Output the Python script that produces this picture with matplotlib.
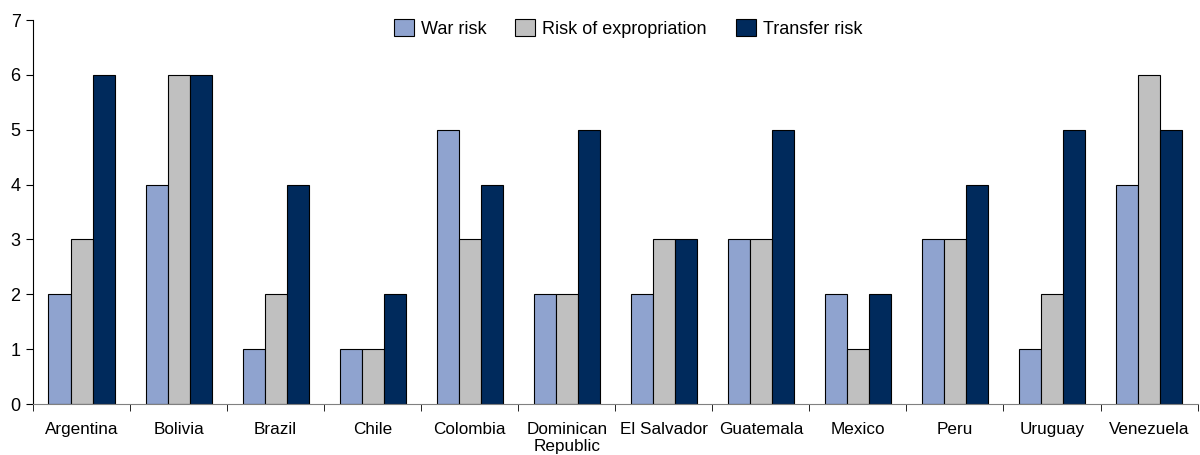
#!/usr/bin/env python3

import numpy as np
import matplotlib
matplotlib.use('Agg')
import matplotlib.pyplot as plt

countries = ['Argentina', 'Bolivia', 'Brazil', 'Chile', 'Colombia', 'Dominican\nRepublic',
             'El Salvador', 'Guatemala', 'Mexico', 'Peru', 'Uruguay', 'Venezuela']
war_risk = [2, 4, 1, 1, 5, 2, 2, 3, 2, 3, 1, 4]
expropriation_risk = [3, 6, 2, 1, 3, 2, 3, 3, 1, 3, 2, 6]
transfer_risk = [6, 6, 4, 2, 4, 5, 3, 5, 2, 4, 5, 5]

plt.rcParams['font.family'] = ['Liberation Sans', 'DejaVu Sans']
plt.rcParams['font.size'] = 12.3

fig = plt.figure(figsize=(12, 4.55), dpi=100)
ax = fig.add_axes([0.0275, 0.112, 0.9705, 0.844])

x = np.arange(len(countries))
w = 0.227
ax.bar(x - w, war_risk, w, color='#8fa3cf', edgecolor='black', linewidth=0.8, label='War risk')
ax.bar(x, expropriation_risk, w, color='#c0c0c0', edgecolor='black', linewidth=0.8, label='Risk of expropriation')
ax.bar(x + w, transfer_risk, w, color='#002a5c', edgecolor='black', linewidth=0.8, label='Transfer risk')

ax.set_xlim(-0.5, len(countries) - 0.5)
ax.set_ylim(0, 7)
ax.set_yticks(range(0, 8))

# category labels in the middle, tick marks between categories
ax.set_xticks(x)
ax.set_xticklabels(countries, linespacing=1.2)
ax.tick_params(axis='x', which='major', length=0, pad=13)
ax.set_xticks(np.arange(-0.5, len(countries)), minor=True)
ax.tick_params(axis='x', which='minor', length=5, direction='out', color='black')
ax.tick_params(axis='y', length=5, direction='out', pad=4, labelsize=13)

for s in ['top', 'right']:
    ax.spines[s].set_visible(False)
ax.spines['bottom'].set_color('#808080')
ax.spines['left'].set_color('black')

ax.legend(loc='upper center', bbox_to_anchor=(0.511, 1.045), ncol=3, frameon=False,
          handlelength=1.1, handleheight=1.1, columnspacing=1.6, handletextpad=0.4,
          fontsize=13)

plt.savefig('out.png', dpi=100)
